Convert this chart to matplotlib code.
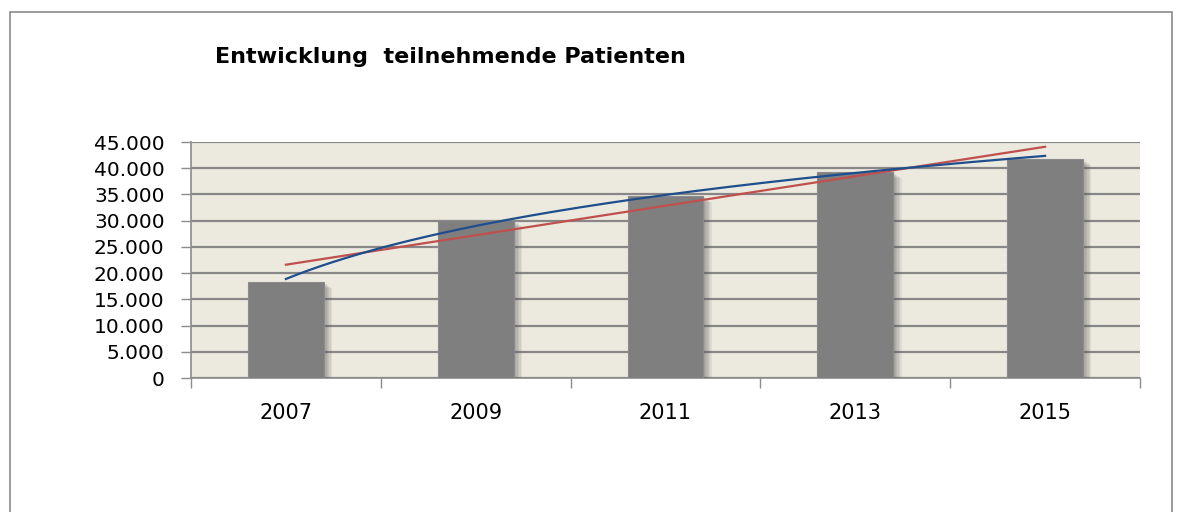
import numpy as np
import matplotlib.pyplot as plt
from matplotlib.patches import Rectangle
from matplotlib.ticker import FuncFormatter
import matplotlib.patheffects as pe

# data
years = ["2007", "2009", "2011", "2013", "2015"]
patients = [18250, 30130, 34760, 39340, 41760]
y_ticks = list(range(0, 45001, 5000))

plt.rcParams['font.family'] = ['DejaVu Sans']

fig = plt.figure(figsize=(11.83, 5.12), dpi=100)
ax = fig.add_axes([191 / 1183, 1 - 378 / 512, (1140 - 191) / 1183, (378 - 142) / 512])

# outer chart border
fig.patches.append(Rectangle((10 / 1183, -0.05), (1172 - 10) / 1183, 1 - 12 / 512 + 0.05,
                             transform=fig.transFigure, fill=False,
                             edgecolor='#8a8a8a', linewidth=1.2))

x = np.arange(len(years))
ax.set_facecolor('#ece9df')
bars = ax.bar(x, patients, width=0.4, color='#7f7f7f', edgecolor='#8a8a8a',
              linewidth=0.8, zorder=3)
# soft drop shadow, built from a few faint offset layers
shadow = [pe.SimplePatchShadow(offset=(o, -o * 0.7), shadow_rgbFace='#5a5a5a', alpha=0.1)
          for o in (1, 2, 3, 4, 5, 6)]
for b in bars:
    b.set_path_effects(shadow + [pe.Normal()])

# trendlines: linear and logarithmic fit of the bar values
xs = np.linspace(0, len(years) - 1, 200)
k, d = np.polyfit(x, patients, 1)
ax.plot(xs, k * xs + d, color='#c0504d', linewidth=1.6, zorder=4)
a, c = np.polyfit(np.log(x + 1), patients, 1)
ax.plot(xs, a * np.log(xs + 1) + c, color='#1f4e8c', linewidth=1.6, zorder=5)

ax.set_xlim(-0.5, len(years) - 0.5)
ax.set_ylim(0, 45000)
ax.set_yticks(y_ticks)
ax.yaxis.set_major_formatter(FuncFormatter(lambda v, p: f"{int(v):,}".replace(",", ".")))
ax.grid(axis='y', color='#878787', linewidth=1.6, zorder=1)
ax.tick_params(axis='y', length=7, width=1, color='#8c8c8c', labelsize=14.5, pad=12)

ax.set_xticks(np.arange(len(years) + 1) - 0.5)
ax.set_xticklabels([])
ax.set_xticks(x, minor=True)
ax.set_xticklabels(years, minor=True)
ax.tick_params(axis='x', which='major', length=7, width=1, color='#8c8c8c', direction='out')
ax.tick_params(axis='x', which='minor', length=0, labelsize=15, pad=18)

for s in ['top', 'right']:
    ax.spines[s].set_visible(False)
for s in ['left', 'bottom']:
    ax.spines[s].set_color('#8c8c8c')
    ax.spines[s].set_linewidth(1.2)

fig.text(215 / 1183, 1 - 57 / 512, "Entwicklung  teilnehmende Patienten",
         fontsize=16, fontweight='bold', va='center', ha='left')

fig.savefig("out.png", dpi=100)
